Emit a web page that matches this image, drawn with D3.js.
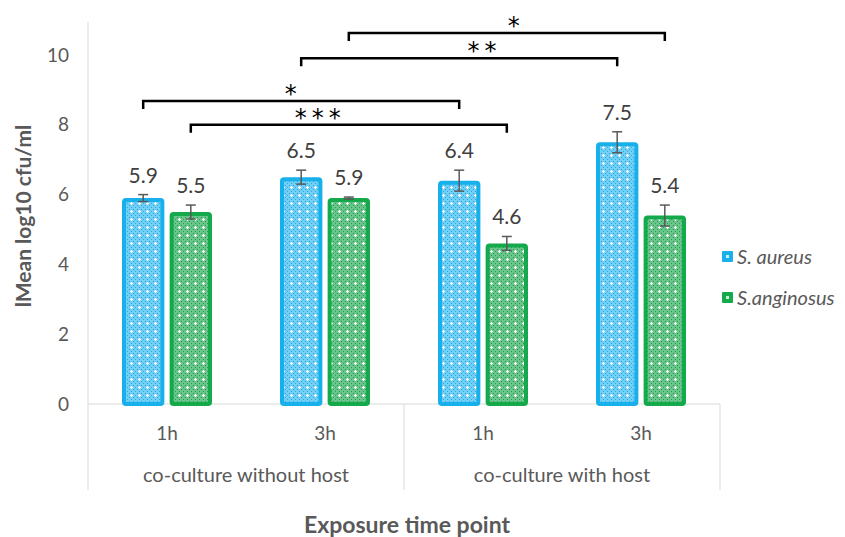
<!DOCTYPE html>
<html>
<head>
<meta charset="utf-8">
<script src="https://cdn.jsdelivr.net/npm/d3@7"></script>
<style>
  body { margin: 0; background: #fff; }
  svg { display: block; font-family: Lato, "Open Sans", sans-serif; }
</style>
</head>
<body>
<div id="chart"></div>
<script>
const groups = ["co-culture without host", "co-culture with host"];
const times = ["1h", "3h"];
const seriesNames = ["S. aureus", "S.anginosus"];
const aureus = [5.9, 6.5, 6.4, 7.5];
const aureusErr = [0.1, 0.2, 0.3, 0.3];
const anginosus = [5.5, 5.9, 4.6, 5.4];
const anginosusErr = [0.2, 0.03, 0.2, 0.3];
const yTicks = [0, 2, 4, 6, 8, 10];
// significance brackets: [from bar, to bar] as [category index, series index]
const sig = [
  { from: [0, 0], to: [2, 0], label: "*", level: 8.68, at: 0.475 },
  { from: [0, 1], to: [2, 1], label: "***", level: 8.0, at: 0.41 },
  { from: [1, 0], to: [3, 0], label: "**", level: 9.91, at: 0.58 },
  { from: [1, 1], to: [3, 1], label: "*", level: 10.63, at: 0.53 }
];

const W = 845, H = 537;
const margin = { left: 88, right: 125, top: 22, bottom: 133 };
const colors = ["#17b0ea", "#14aa4c"];
const tints = ["#74cdf2", "#6cc48c"];

const svg = d3.select("#chart").append("svg").attr("width", W).attr("height", H);
const defs = svg.append("defs");

colors.forEach((c, k) => {
  const p = defs.append("pattern")
    .attr("id", "pat" + k)
    .attr("patternUnits", "userSpaceOnUse")
    .attr("width", 8).attr("height", 8);
  p.append("rect").attr("width", 8).attr("height", 8).attr("fill", tints[k]);
  [[1, 1], [5, 1], [1, 5], [5, 5], [3, 3], [7, 7], [3, 7], [7, 3]].forEach(([i, j]) => {
    p.append("rect").attr("x", i).attr("y", j).attr("width", 1).attr("height", 1).attr("fill", c);
  });
  p.append("rect").attr("x", 3).attr("y", 2).attr("width", 1).attr("height", 3).attr("fill", "#fff");
  p.append("rect").attr("x", 2).attr("y", 3).attr("width", 3).attr("height", 1).attr("fill", "#fff");
});

const cats = [];
groups.forEach(g => times.forEach(t => cats.push(g + "|" + t)));

const x = d3.scaleBand().domain(cats).range([margin.left, W - margin.right]);
const y = d3.scaleLinear().domain([0, 10]).range([404, 55]);
const inner = d3.scaleBand().domain([0, 1]).range([-45, 45]).paddingInner(0.11);

const axisCol = "#d9d9d9", textCol = "#595959";

// axes lines
svg.append("line").attr("x1", margin.left).attr("x2", margin.left)
  .attr("y1", margin.top).attr("y2", y(0)).attr("stroke", axisCol);
svg.append("line").attr("x1", margin.left).attr("x2", W - margin.right)
  .attr("y1", y(0)).attr("y2", y(0)).attr("stroke", axisCol);
const gw = x.bandwidth() * times.length;
d3.range(groups.length + 1).forEach(i => {
  const xx = margin.left + i * gw;
  svg.append("line").attr("x1", xx).attr("x2", xx)
    .attr("y1", y(0)).attr("y2", 490).attr("stroke", axisCol);
});

// y tick labels
svg.selectAll(".ytick").data(yTicks).enter().append("text")
  .attr("x", 69).attr("y", d => y(d)).attr("dy", "0.35em")
  .attr("text-anchor", "end").attr("font-size", 19).attr("fill", textCol)
  .text(d => d);

// x labels
svg.selectAll(".xtick").data(cats).enter().append("text")
  .attr("x", d => x(d) + x.bandwidth() / 2).attr("y", 440)
  .attr("text-anchor", "middle").attr("font-size", 19).attr("fill", textCol)
  .text(d => d.split("|")[1]);
svg.selectAll(".xgroup").data(groups).enter().append("text")
  .attr("x", (d, i) => margin.left + gw * (i + 0.5)).attr("y", 482)
  .attr("text-anchor", "middle").attr("font-size", 20).attr("fill", textCol)
  .text(d => d);

// titles
svg.append("text").attr("x", 407).attr("y", 533).attr("text-anchor", "middle")
  .attr("font-size", 23).attr("font-weight", "bold").attr("fill", textCol)
  .text("Exposure time point");
svg.append("text").attr("transform", "translate(31,216) rotate(-90)")
  .attr("text-anchor", "middle").attr("font-size", 21).attr("font-weight", "bold").attr("fill", textCol)
  .text("lMean log10 cfu/ml");

// bars
const series = [
  { name: seriesNames[0], vals: aureus, errs: aureusErr },
  { name: seriesNames[1], vals: anginosus, errs: anginosusErr }
];
const barX = (ci, si) => x(cats[ci]) + x.bandwidth() / 2 + inner(si);
const barCx = (ci, si) => barX(ci, si) + inner.bandwidth() / 2;

series.forEach((s, si) => {
  const g = svg.append("g");
  const bw = inner.bandwidth();
  g.selectAll("rect").data(s.vals).enter().append("rect")
    .attr("x", (d, i) => barX(i, si) + 2)
    .attr("y", d => y(d) + 2)
    .attr("width", bw - 4)
    .attr("height", d => y(0) - y(d) - 2)
    .attr("rx", 2)
    .attr("fill", `url(#pat${si})`)
    .attr("stroke", colors[si]).attr("stroke-width", 4);

  const e = g.selectAll(".err").data(s.vals).enter().append("g");
  e.append("line")
    .attr("x1", (d, i) => barCx(i, si)).attr("x2", (d, i) => barCx(i, si))
    .attr("y1", (d, i) => y(d + s.errs[i])).attr("y2", (d, i) => y(d - s.errs[i]));
  e.append("line")
    .attr("x1", (d, i) => barCx(i, si) - 5).attr("x2", (d, i) => barCx(i, si) + 5)
    .attr("y1", (d, i) => y(d + s.errs[i])).attr("y2", (d, i) => y(d + s.errs[i]));
  e.append("line")
    .attr("x1", (d, i) => barCx(i, si) - 5).attr("x2", (d, i) => barCx(i, si) + 5)
    .attr("y1", (d, i) => y(d - s.errs[i])).attr("y2", (d, i) => y(d - s.errs[i]));
  e.selectAll("line").attr("stroke", "#595959").attr("stroke-width", 1.5);

  g.selectAll(".val").data(s.vals).enter().append("text")
    .attr("x", (d, i) => barCx(i, si))
    .attr("y", (d, i) => y(d + s.errs[i]) - 12)
    .attr("text-anchor", "middle").attr("font-size", 21).attr("fill", "#404040")
    .text(d => d3.format(".1f")(d));
});

// significance brackets
sig.forEach(b => {
  const x1 = barCx(b.from[0], b.from[1]);
  const x2 = barCx(b.to[0], b.to[1]);
  const yy = y(b.level);
  svg.append("path")
    .attr("d", `M${x1},${yy + 8}V${yy}H${x2}V${yy + 8}`)
    .attr("fill", "none").attr("stroke", "#000").attr("stroke-width", 2.5);
  svg.append("text")
    .attr("x", x1 + (x2 - x1) * b.at).attr("y", yy + 1)
    .attr("text-anchor", "middle").attr("font-size", 24)
    .attr("font-family", "DejaVu Sans").attr("fill", "#000")
    .attr("letter-spacing", 5)
    .text(b.label);
});

// legend
const leg = svg.append("g").attr("transform", "translate(722,251)");
seriesNames.forEach((n, i) => {
  const r = leg.append("g").attr("transform", `translate(0,${i * 41})`);
  r.append("rect").attr("width", 11).attr("height", 11).attr("rx", 1).attr("fill", colors[i]);
  r.append("rect").attr("x", 4).attr("y", 4).attr("width", 3).attr("height", 3).attr("fill", "#fff").attr("opacity", 0.8);
  r.append("text").attr("x", 15).attr("y", 6).attr("dy", "0.35em")
    .attr("font-size", 20).attr("font-style", "italic").attr("fill", textCol).text(n);
});
</script>
</body>
</html>
